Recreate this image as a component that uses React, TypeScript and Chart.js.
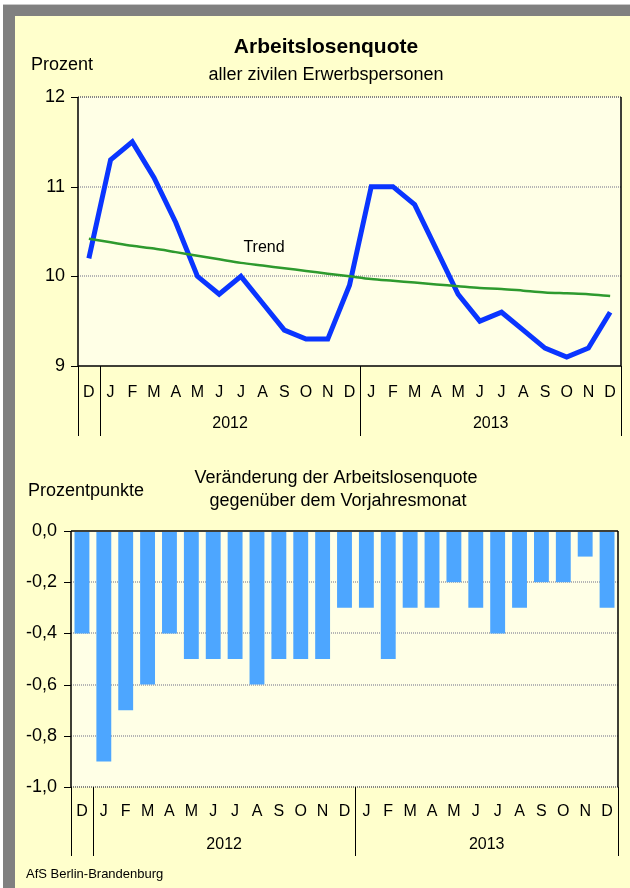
import React, { useEffect, useRef } from 'react';
import { Chart, registerables } from 'chart.js';

Chart.register(...registerables);

// ---------- data ----------
const months = ['D', 'J', 'F', 'M', 'A', 'M', 'J', 'J', 'A', 'S', 'O', 'N', 'D', 'J', 'F', 'M', 'A', 'M', 'J', 'J', 'A', 'S', 'O', 'N', 'D'];
const years = ['2012', '2013'];
const yearStartIdx = [1, 13];
const yearEndIdx = [12, 24];

const rate = [10.2, 11.3, 11.5, 11.1, 10.6, 10.0, 9.8, 10.0, 9.7, 9.4, 9.3, 9.3, 9.9, 11.0, 11.0, 10.8, 10.3, 9.8, 9.5, 9.6, 9.4, 9.2, 9.1, 9.2, 9.6];
const trend = [10.42, 10.38, 10.34, 10.31, 10.27, 10.23, 10.19, 10.15, 10.12, 10.09, 10.06, 10.03, 10.0, 9.97, 9.95, 9.93, 9.91, 9.89, 9.87, 9.86, 9.84, 9.82, 9.81, 9.8, 9.78];
const change = [-0.4, -0.9, -0.7, -0.6, -0.4, -0.5, -0.5, -0.5, -0.6, -0.5, -0.5, -0.5, -0.3, -0.3, -0.5, -0.3, -0.3, -0.2, -0.3, -0.4, -0.3, -0.2, -0.2, -0.1, -0.3];

const rateMin = 9;
const rateMax = 12;
const rateStep = 1;
const changeMin = -1.0;
const changeMax = 0.0;
const changeStep = 0.2;

const FONT = '"Liberation Sans", Arial, Helvetica, sans-serif';

// ---------- plugins ----------
const plotBg = {
  id: 'plotBg',
  beforeDraw(chart: any, _a: any, opts: any) {
    const { ctx, chartArea: ca } = chart;
    ctx.save();
    ctx.fillStyle = opts.color;
    ctx.fillRect(ca.left, ca.top, ca.right - ca.left, ca.bottom - ca.top);
    ctx.restore();
  },
};

const frame = {
  id: 'frame',
  afterDatasetsDraw(chart: any, _a: any, opts: any) {
    const { ctx, chartArea: ca } = chart;
    ctx.save();
    ctx.strokeStyle = '#000';
    ctx.lineWidth = 1.5;
    ctx.beginPath();
    ctx.moveTo(ca.left, ca.top);
    ctx.lineTo(ca.left, ca.bottom);
    ctx.moveTo(ca.right, ca.top);
    ctx.lineTo(ca.right, ca.bottom);
    if (opts.bottom) {
      ctx.moveTo(ca.left, ca.bottom);
      ctx.lineTo(ca.right, ca.bottom);
    }
    if (opts.top) {
      ctx.moveTo(ca.left, ca.top);
      ctx.lineTo(ca.right, ca.top);
    }
    ctx.stroke();
    // tick marks on y axis
    const y = chart.scales.y;
    ctx.lineWidth = 1;
    ctx.beginPath();
    y.ticks.forEach((_t: any, i: number) => {
      const py = Math.round(y.getPixelForTick(i)) + 0.5;
      ctx.moveTo(ca.left - opts.tickLen, py);
      ctx.lineTo(ca.left, py);
    });
    ctx.stroke();
    ctx.restore();
  },
};

const categoryRow = {
  id: 'categoryRow',
  afterDraw(chart: any, _a: any, opts: any) {
    const { ctx, chartArea: ca } = chart;
    const x = chart.scales.x;
    const top = ca.bottom;
    const edge = (i: number) =>
      i <= 0 ? ca.left : i >= months.length ? ca.right : (x.getPixelForValue(i - 1) + x.getPixelForValue(i)) / 2;
    ctx.save();
    ctx.fillStyle = '#000';
    ctx.textAlign = 'center';
    ctx.textBaseline = 'middle';
    ctx.font = `${opts.monthSize}px ${FONT}`;
    months.forEach((m, i) => ctx.fillText(m, x.getPixelForValue(i), top + opts.monthOffset));
    ctx.font = `${opts.yearSize}px ${FONT}`;
    years.forEach((yr, k) => {
      const cx = (edge(yearStartIdx[k]) + edge(yearEndIdx[k] + 1)) / 2;
      ctx.fillText(yr, cx, top + opts.yearOffset);
    });
    ctx.strokeStyle = '#000';
    ctx.lineWidth = 1;
    ctx.beginPath();
    [0, ...yearStartIdx, months.length].forEach((s) => {
      const px = Math.round(edge(s)) + 0.5;
      ctx.moveTo(px, top);
      ctx.lineTo(px, top + opts.lineLen);
    });
    ctx.stroke();
    ctx.restore();
  },
};

const texts = {
  id: 'texts',
  afterDraw(chart: any, _a: any, opts: any) {
    const ctx = chart.ctx;
    (opts.items || []).forEach((it: any) => {
      ctx.save();
      ctx.font = it.font;
      ctx.fillStyle = '#000';
      ctx.textAlign = it.align || 'center';
      ctx.textBaseline = 'middle';
      ctx.fillText(it.text, it.x, it.y);
      ctx.restore();
    });
  },
};

const gridDash = [1, 1];

export default function App() {
  const topRef = useRef<HTMLCanvasElement | null>(null);
  const botRef = useRef<HTMLCanvasElement | null>(null);

  useEffect(() => {
    const c1 = new Chart(topRef.current as HTMLCanvasElement, {
      type: 'line',
      data: {
        labels: months,
        datasets: [
          {
            label: 'Trend',
            data: trend,
            borderColor: '#2E9A2E',
            borderWidth: 2.5,
            pointRadius: 0,
            tension: 0.3,
            fill: false,
          },
          {
            label: 'Arbeitslosenquote',
            data: rate,
            borderColor: '#0A35FF',
            borderWidth: 5,
            pointRadius: 0,
            tension: 0,
            fill: false,
          },
        ],
      },
      options: {
        responsive: false,
        animation: false,
        layout: { padding: { left: 0, right: 9, top: 97, bottom: 84 } },
        plugins: {
          legend: { display: false },
          tooltip: { enabled: false },
          title: { display: false },
          plotBg: { color: '#FFFFE6' },
          frame: { bottom: true, top: false, tickLen: 7 },
          categoryRow: { monthSize: 16, yearSize: 16, monthOffset: 27, yearOffset: 58, lineLen: 70 },
          texts: {
            items: [
              { text: 'Arbeitslosenquote', x: 326, y: 47, font: `bold 21px ${FONT}` },
              { text: 'aller zivilen Erwerbspersonen', x: 326, y: 75, font: `18px ${FONT}` },
              { text: 'Prozent', x: 31, y: 65, font: `18px ${FONT}`, align: 'left' },
              { text: 'Trend', x: 264, y: 248, font: `16px ${FONT}` },
            ],
          },
        } as any,
        scales: {
          x: { type: 'category', offset: true, display: false },
          y: {
            min: rateMin,
            max: rateMax,
            afterFit: (s: any) => {
              s.width = 78;
            },
            ticks: { stepSize: rateStep, color: '#000', font: { family: FONT, size: 18 }, padding: 13 },
            grid: {
              drawTicks: false,
              lineWidth: 2,
              color: (c: any) =>
                c.tick && c.tick.value === rateMax ? '#858585' : c.tick && c.tick.value === rateMin ? 'rgba(0,0,0,0)' : '#b5b5b5',
            },
            border: { display: false, dash: gridDash },
          },
        },
      },
      plugins: [plotBg, frame, categoryRow, texts],
    } as any);

    const c2 = new Chart(botRef.current as HTMLCanvasElement, {
      type: 'bar',
      data: {
        labels: months,
        datasets: [
          {
            label: 'Veränderung',
            data: change,
            backgroundColor: '#4DA6FF',
            borderWidth: 0,
            barPercentage: 0.68,
            categoryPercentage: 1,
          },
        ],
      },
      options: {
        responsive: false,
        animation: false,
        layout: { padding: { left: 0, right: 12, top: 81, bottom: 101 } },
        plugins: {
          legend: { display: false },
          tooltip: { enabled: false },
          title: { display: false },
          plotBg: { color: '#FFFFE6' },
          frame: { bottom: false, top: true, tickLen: 7 },
          categoryRow: { monthSize: 16, yearSize: 16, monthOffset: 25, yearOffset: 58, lineLen: 69 },
          texts: {
            items: [
              { text: 'Veränderung der Arbeitslosenquote', x: 336, y: 28, font: `18px ${FONT}` },
              { text: 'gegenüber dem Vorjahresmonat', x: 338, y: 51, font: `18px ${FONT}` },
              { text: 'Prozentpunkte', x: 28, y: 41, font: `18px ${FONT}`, align: 'left' },
              { text: 'AfS Berlin-Brandenburg', x: 26, y: 424, font: `13px ${FONT}`, align: 'left' },
            ],
          },
        } as any,
        scales: {
          x: { type: 'category', offset: true, display: false },
          y: {
            min: changeMin,
            max: changeMax,
            afterFit: (s: any) => {
              s.width = 71;
            },
            ticks: {
              stepSize: changeStep,
              color: '#000',
              font: { family: FONT, size: 18 },
              padding: 14,
              callback: (v: any) => Number(v).toFixed(1).replace('.', ',').replace('-0,0', '0,0'),
            },
            grid: {
              drawTicks: false,
              lineWidth: 2,
              color: (c: any) =>
                c.tick && Math.abs(c.tick.value - changeMin) < 1e-9
                  ? '#858585'
                  : c.tick && Math.abs(c.tick.value - changeMax) < 1e-9
                  ? 'rgba(0,0,0,0)'
                  : '#b5b5b5',
            },
            border: { display: false, dash: gridDash },
          },
        },
      },
      plugins: [plotBg, frame, categoryRow, texts],
    } as any);

    return () => {
      c1.destroy();
      c2.destroy();
    };
  }, []);

  return (
    <div style={{ position: 'absolute', left: 0, top: 0, width: 630, height: 888, background: '#ffffff', overflow: 'hidden' }}>
      <div
        style={{
          position: 'absolute',
          left: 3,
          top: 4,
          width: 627,
          height: 884,
          background: '#808080',
          borderTop: '1px solid #c8c8c8',
          boxSizing: 'border-box',
        }}
      />
      <div style={{ position: 'absolute', left: 15, top: 16, width: 615, height: 872, background: '#FFFFCC' }} />
      <canvas ref={topRef} width={630} height={450} style={{ position: 'absolute', left: 0, top: 0, width: 630, height: 450 }} />
      <canvas ref={botRef} width={630} height={438} style={{ position: 'absolute', left: 0, top: 450, width: 630, height: 438 }} />
    </div>
  );
}
